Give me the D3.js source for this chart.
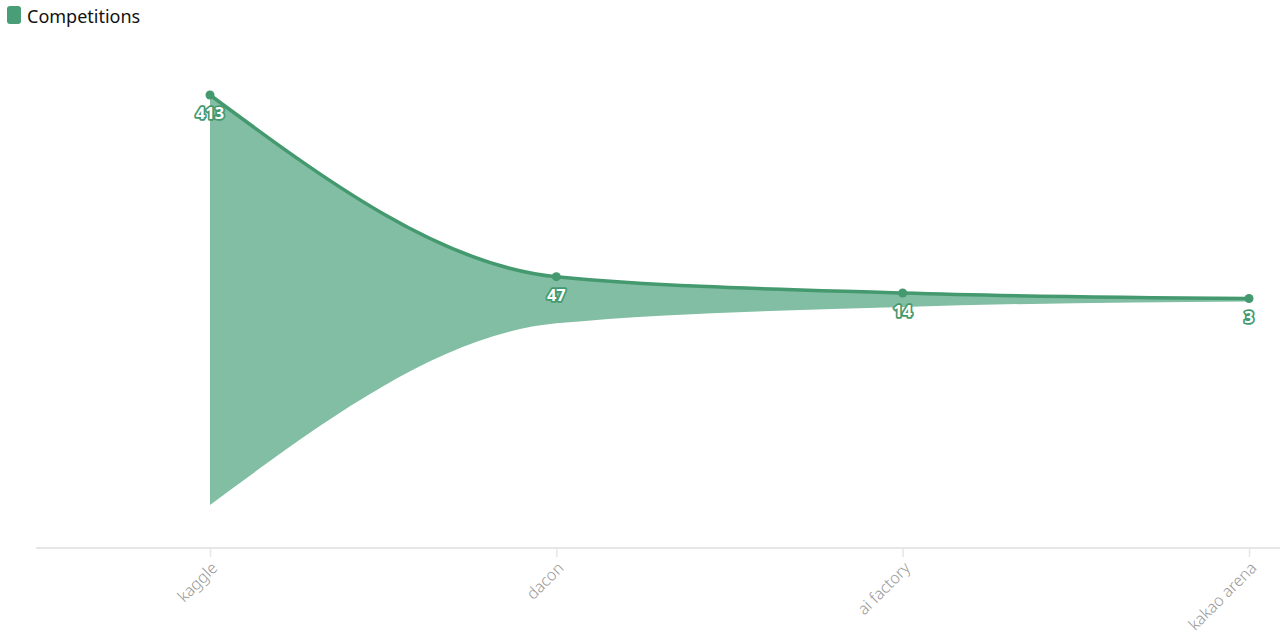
<!DOCTYPE html>
<html>
<head>
<meta charset="utf-8">
<script src="https://cdn.jsdelivr.net/npm/d3@7"></script>
<style>
  html, body { margin: 0; padding: 0; background: #fff; }
  svg { display: block; font-family: "Noto Sans", "Open Sans", sans-serif; }
</style>
</head>
<body>
<svg id="chart" width="1280" height="643"></svg>
<script>
const categories = ["kaggle", "dacon", "ai factory", "kakao arena"];
const competitions = [413, 47, 14, 3];
const seriesName = "Competitions";

const lineColor = "#44996f";
const fillColor = "#82bea3";

const svg = d3.select("#chart");
const maxV = d3.max(competitions);

const x = d3.scalePoint().domain(categories).range([210, 1249]);
const y = d3.scaleLinear().domain([-maxV, maxV]).range([505, 95]);

const data = categories.map((c, i) => ({ c, v: competitions[i] }));

// Axis
const axisG = svg.append("g").attr("transform", "translate(0,548)");
axisG.append("line").attr("x1", 36).attr("x2", 1280).attr("y1", 0).attr("y2", 0)
  .attr("stroke", "#e6e6e6").attr("stroke-width", 2);
const xAxis = d3.axisBottom(x).tickSize(9).tickPadding(6);
const ax = axisG.append("g").call(xAxis);
ax.select(".domain").remove();
ax.selectAll(".tick line").attr("stroke", "#e6e6e6").attr("stroke-width", 1.5);
ax.selectAll(".tick text")
  .attr("fill", "#999")
  .attr("font-size", 16)
  .attr("font-weight", 300)
  .attr("font-family", "'Noto Sans', sans-serif")
  .attr("text-anchor", "end")
  .attr("dy", "0.35em")
  .attr("transform", "translate(4,17) rotate(-45)")
  .attr("y", 0).attr("x", 0);

// Area
const area = d3.area()
  .x(d => x(d.c))
  .y0(d => y(-d.v))
  .y1(d => y(d.v))
  .curve(d3.curveMonotoneX);
svg.append("path").datum(data).attr("d", area).attr("fill", fillColor);

const line = d3.line().x(d => x(d.c)).y(d => y(d.v)).curve(d3.curveMonotoneX);
svg.append("path").datum(data).attr("d", line)
  .attr("fill", "none").attr("stroke", lineColor).attr("stroke-width", 3.5);

svg.selectAll("circle.pt").data(data).enter().append("circle")
  .attr("class", "pt")
  .attr("cx", d => x(d.c)).attr("cy", d => y(d.v)).attr("r", 4.5)
  .attr("fill", lineColor);

svg.selectAll("text.lbl").data(data).enter().append("text")
  .attr("class", "lbl")
  .attr("x", d => x(d.c)).attr("y", d => y(d.v) + 24)
  .attr("text-anchor", "middle")
  .attr("font-size", 16.5).attr("font-weight", "bold")
  .attr("font-family", "'Noto Sans', sans-serif")
  .attr("fill", "#fff")
  .attr("stroke", lineColor).attr("stroke-width", 3.5)
  .attr("stroke-linejoin", "round")
  .attr("paint-order", "stroke")
  .text(d => d.v);

// Legend
const lg = svg.append("g").attr("transform", "translate(7,6)");
lg.append("rect").attr("width", 14).attr("height", 18).attr("rx", 3).attr("fill", "#4a9e77");
lg.append("text").attr("x", 20).attr("y", 17).attr("font-size", 18)
  .attr("fill", "#111").attr("font-family", "'Noto Sans', sans-serif").text(seriesName);
</script>
</body>
</html>
